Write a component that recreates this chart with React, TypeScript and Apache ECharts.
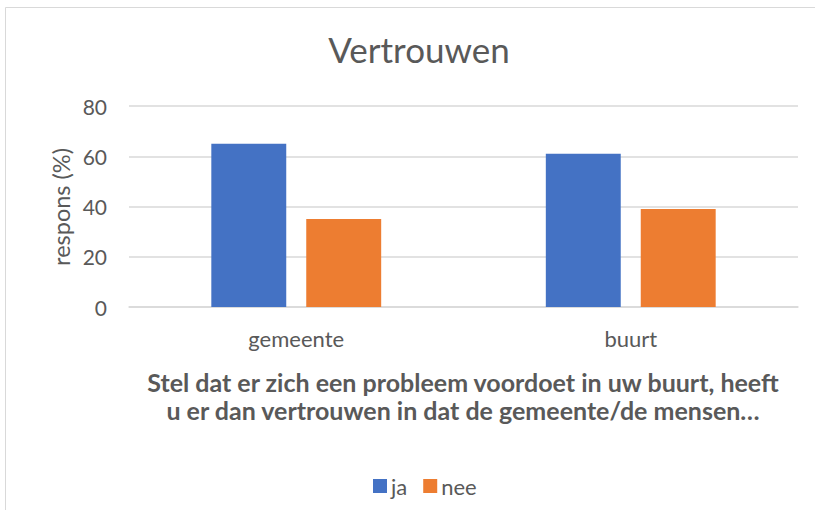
import React, { useEffect, useRef } from "react";
import * as echarts from "echarts";

const categories = ["gemeente", "buurt"];
const jaValues = [65, 61];
const neeValues = [35, 39];
const seriesNames = ["ja", "nee"];
const titleText = "Vertrouwen";
const yAxisName = "respons (%)";
const xAxisTitleLines = [
  "Stel dat er zich een probleem voordoet in uw buurt, heeft",
  "u er dan vertrouwen in dat de gemeente/de mensen…",
];

const FONT = "Lato, 'Noto Sans', sans-serif";
const TXT = "#595959";

export default function App() {
  const ref = useRef<HTMLDivElement>(null);
  useEffect(() => {
    if (!ref.current) return;
    const chart = echarts.init(ref.current, undefined, { renderer: "svg" });
    chart.setOption({
      animation: false,
      textStyle: { fontFamily: FONT },
      legend: {
        data: seriesNames,
        left: 368,
        top: 470,
        itemWidth: 14,
        itemHeight: 14,
        itemGap: 16,
        icon: "rect",
        textStyle: {
          fontFamily: FONT,
          fontSize: 22,
          lineHeight: 22,
          color: TXT,
          padding: [0, 0, 0, -1],
        },
      },
      grid: { left: 129, right: 17, top: 106, bottom: 203, containLabel: false },
      xAxis: {
        type: "category",
        data: categories,
        axisLine: { show: true, lineStyle: { color: "#D9D9D9", width: 1.5 } },
        axisTick: { show: false },
        axisLabel: { color: TXT, fontFamily: FONT, fontSize: 22, margin: 20 },
      },
      yAxis: {
        type: "value",
        min: 0,
        max: 80,
        interval: 20,
        axisLine: { show: false },
        axisTick: { show: false },
        splitLine: { lineStyle: { color: "#D9D9D9", width: 1.5 } },
        axisLabel: { color: TXT, fontFamily: FONT, fontSize: 21, margin: 22 },
      },
      series: [
        {
          name: seriesNames[0],
          type: "bar",
          data: jaValues,
          barWidth: "22.4%",
          barGap: "26.7%",
          itemStyle: { color: "#4472C4" },
        },
        {
          name: seriesNames[1],
          type: "bar",
          data: neeValues,
          barWidth: "22.4%",
          barGap: "26.7%",
          itemStyle: { color: "#ED7D31" },
        },
      ],
      graphic: [
        {
          type: "rect",
          shape: { x: 5.5, y: 7.5, width: 830, height: 520 },
          style: { fill: "none", stroke: "#D9D9D9", lineWidth: 1 },
          silent: true,
        },
        {
          type: "text",
          x: 419,
          y: 49,
          style: {
            text: titleText,
            fontFamily: FONT,
            fontSize: 35,
            fill: TXT,
            textAlign: "center",
            textVerticalAlign: "middle",
          },
        },
        {
          type: "text",
          x: 61,
          y: 207,
          rotation: Math.PI / 2,
          style: {
            text: yAxisName,
            fontFamily: FONT,
            fontSize: 23.5,
            fill: TXT,
            textAlign: "center",
            textVerticalAlign: "middle",
          },
        },
        {
          type: "text",
          x: 463,
          y: 396,
          style: {
            text: xAxisTitleLines.join("\n"),
            fontFamily: FONT,
            fontSize: 25,
            lineHeight: 28,
            fontWeight: "bold",
            fill: TXT,
            align: "center",
            verticalAlign: "middle",
            textAlign: "center",
            textVerticalAlign: "middle",
          },
        },
      ],
    });
    return () => chart.dispose();
  }, []);
  return (
    <div
      ref={ref}
      style={{ position: "fixed", left: 0, top: 0, width: 815, height: 510, background: "#fff" }}
    />
  );
}
